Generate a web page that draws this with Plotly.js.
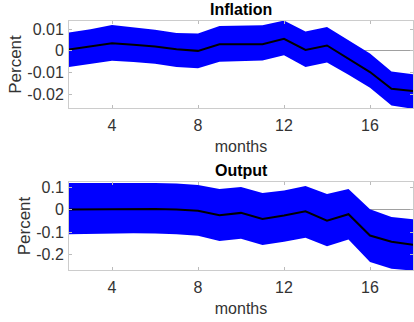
<!DOCTYPE html>
<html>
<head>
<meta charset="utf-8">
<script src="https://cdn.plot.ly/plotly-3.0.1.min.js"></script>
<style>
  html, body { margin: 0; padding: 0; background: #ffffff; }
  #chart { width: 414px; height: 322px; }
</style>
</head>
<body>
<div id="chart"></div>
<script>
// Impulse responses with error bands, horizon in months
const months = [2, 3, 4, 5, 6, 7, 8, 9, 10, 11, 12, 13, 14, 15, 16, 17, 18];

const inflationMid   = [0.0006, 0.0020, 0.0035, 0.0028, 0.0020, 0.0008, 0.0000, 0.0030, 0.0030, 0.0031, 0.0056, 0.0004, 0.0025, -0.0035, -0.0098, -0.0175, -0.0186];
const inflationUpper = [0.0085, 0.0100, 0.0120, 0.0110, 0.0098, 0.0083, 0.0080, 0.0115, 0.0118, 0.0118, 0.0140, 0.0090, 0.0110, 0.0050, -0.0012, -0.0095, -0.0108];
const inflationLower = [-0.0074, -0.0060, -0.0046, -0.0052, -0.0060, -0.0075, -0.0080, -0.0050, -0.0047, -0.0045, -0.0020, -0.0074, -0.0054, -0.0110, -0.0170, -0.0252, -0.0268];

const outputMid   = [0.001, 0.002, 0.003, 0.003, 0.003, 0.001, -0.004, -0.025, -0.014, -0.041, -0.026, -0.007, -0.049, -0.020, -0.116, -0.144, -0.157];
const outputUpper = [0.121, 0.121, 0.122, 0.122, 0.121, 0.118, 0.112, 0.094, 0.102, 0.075, 0.087, 0.107, 0.071, 0.094, 0.002, -0.032, -0.043];
const outputLower = [-0.110, -0.108, -0.106, -0.106, -0.107, -0.110, -0.117, -0.140, -0.130, -0.158, -0.144, -0.126, -0.164, -0.134, -0.235, -0.265, -0.274];

const xTicks = [4, 8, 12, 16];
const inflationTicks = [-0.02, -0.01, 0, 0.01];
const inflationTickText = ['-0.02', '-0.01', '0', '0.01'];
const outputTicks = [-0.2, -0.1, 0, 0.1];
const outputTickText = ['-0.2', '-0.1', '0', '0.1'];

const BAND = '#0000ff';
const FONT = 'Liberation Sans, Arial, sans-serif';
const TXT = '#333333';

function band(x, lo, mid, hi, xa, ya) {
  return [
    { x: x, y: hi, xaxis: xa, yaxis: ya, mode: 'lines', line: { width: 0, color: BAND },
      hoverinfo: 'skip', showlegend: false },
    { x: x, y: lo, xaxis: xa, yaxis: ya, mode: 'lines', line: { width: 0, color: BAND },
      fill: 'tonexty', fillcolor: BAND, hoverinfo: 'skip', showlegend: false },
    { x: x, y: mid, xaxis: xa, yaxis: ya, mode: 'lines', line: { width: 2, color: '#000000' },
      showlegend: false }
  ];
}

const traces = [].concat(
  band(months, inflationLower, inflationMid, inflationUpper, 'x', 'y'),
  band(months, outputLower, outputMid, outputUpper, 'x2', 'y2')
);

function xAxis(anchor) {
  return {
    anchor: anchor, domain: [69 / 414, 413 / 414], range: [2, 18],
    tickvals: xTicks, ticks: 'inside', ticklen: 3, tickcolor: '#bbbbbb',
    showline: true, linecolor: '#cccccc', linewidth: 1, mirror: 'allticks',
    showgrid: false, zeroline: false,
    tickfont: { family: FONT, size: 16, color: TXT },
    ticklabelstandoff: 3,
    title: { text: 'months', font: { family: FONT, size: 16, color: TXT }, standoff: 7 }
  };
}

function yAxis(anchor, domain, range, vals, text) {
  return {
    anchor: anchor, domain: domain, range: range,
    tickvals: vals, ticktext: text, ticks: 'inside', ticklen: 3, tickcolor: '#bbbbbb',
    showline: true, linecolor: '#cccccc', linewidth: 1, mirror: 'allticks',
    showgrid: false, zeroline: true, zerolinecolor: '#a0a0a0', zerolinewidth: 1,
    tickfont: { family: FONT, size: 16, color: TXT },
    ticklabelstandoff: 1,
    title: { text: 'Percent', font: { family: FONT, size: 17, color: TXT }, standoff: 1 }
  };
}

const H = 322;
const layout = {
  width: 414, height: 322,
  margin: { l: 0, r: 0, t: 0, b: 0 },
  paper_bgcolor: '#ffffff', plot_bgcolor: '#ffffff',
  showlegend: false,
  xaxis: xAxis('y'),
  yaxis: yAxis('x', [1 - 108 / H, 1 - 21 / H], [-0.0264, 0.0138], inflationTicks, inflationTickText),
  xaxis2: xAxis('y2'),
  yaxis2: yAxis('x2', [1 - 270 / H, 1 - 182 / H], [-0.271, 0.125], outputTicks, outputTickText),
  annotations: [
    { text: '<b>Inflation</b>', xref: 'paper', yref: 'paper', x: 241 / 414, y: 1 - 10 / H,
      xanchor: 'center', yanchor: 'middle', showarrow: false,
      font: { family: FONT, size: 16, color: '#000000' } },
    { text: '<b>Output</b>', xref: 'paper', yref: 'paper', x: 241 / 414, y: 1 - 171 / H,
      xanchor: 'center', yanchor: 'middle', showarrow: false,
      font: { family: FONT, size: 16, color: '#000000' } }
  ]
};

Plotly.newPlot('chart', traces, layout, { staticPlot: true, displayModeBar: false });
</script>
</body>
</html>
